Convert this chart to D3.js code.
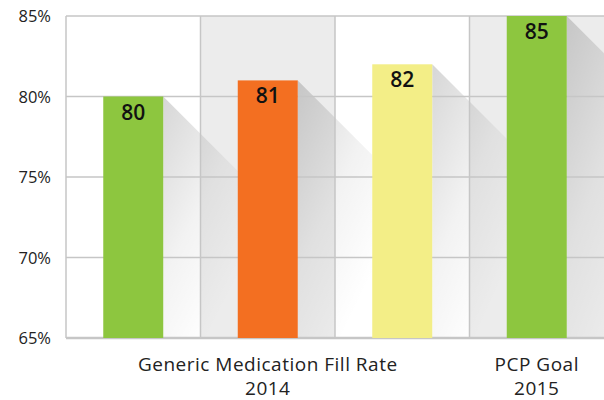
<!DOCTYPE html>
<html>
<head>
<meta charset="utf-8">
<script src="https://cdn.jsdelivr.net/npm/d3@7/dist/d3.min.js"></script>
<style>
  html, body { margin: 0; padding: 0; background: #fff; }
  svg { display: block; font-family: "Open Sans", "Noto Sans", sans-serif; }
</style>
</head>
<body>
<svg id="chart" width="604" height="400"></svg>
<script>
// Fill rate bars: three 2014 results plus the 2015 goal
const slots = ["g1", "g2", "g3", "goal"];
const values = [80, 81, 82, 85];
const barColors = ["#8dc63f", "#f36f21", "#f3ee87", "#8dc63f"];
const yTicks = [65, 70, 75, 80, 85];
const groupLabels = [
  { lines: ["Generic Medication Fill Rate", "2014"], from: "g1", to: "g3" },
  { lines: ["PCP Goal", "2015"], from: "goal", to: "goal" }
];

const W = 604, H = 400;
const plot = { left: 66, right: 604, top: 16, bottom: 338 };

const svg = d3.select("#chart");

const x = d3.scaleBand().domain(slots).range([plot.left, plot.right]).padding(0);
const y = d3.scaleLinear().domain([65, 85]).range([plot.bottom, plot.top]);
const barW = x.bandwidth() * 0.446;

// Alternating column backgrounds
svg.append("g").selectAll("rect").data(slots).join("rect")
  .attr("x", d => x(d)).attr("y", plot.top)
  .attr("width", x.bandwidth()).attr("height", plot.bottom - plot.top)
  .attr("fill", (d, i) => i % 2 ? "#ececec" : "#ffffff");

// Long diagonal shadows cast by each bar
const defs = svg.append("defs");
const grad = defs.append("linearGradient").attr("id", "shade")
  .attr("x1", 0).attr("y1", 0).attr("x2", 0.6).attr("y2", 1);
grad.append("stop").attr("offset", 0).attr("stop-color", "#000").attr("stop-opacity", 0.16);
grad.append("stop").attr("offset", 0.55).attr("stop-color", "#000").attr("stop-opacity", 0.05);
grad.append("stop").attr("offset", 1).attr("stop-color", "#000").attr("stop-opacity", 0.0);
defs.append("clipPath").attr("id", "plotclip").append("rect")
  .attr("x", plot.left).attr("y", plot.top)
  .attr("width", plot.right - plot.left).attr("height", plot.bottom - plot.top);

const barLeft = d => x(d) + (x.bandwidth() - barW) / 2;

svg.append("g").attr("clip-path", "url(#plotclip)")
  .selectAll("path").data(slots).join("path")
  .attr("d", (d, i) => {
    const r = barLeft(d) + barW;
    const top = y(values[i]);
    const span = x.bandwidth() - barW;
    return `M${r},${top}L${r + span},${top + span}L${r + span},${plot.bottom}L${r},${plot.bottom}Z`;
  })
  .attr("fill", "url(#shade)");

// Grid lines
const grid = svg.append("g").attr("stroke", "#c6c6c6").attr("stroke-width", 1.5);
grid.selectAll("line.h").data(yTicks).join("line").attr("class", "h")
  .attr("x1", plot.left).attr("x2", plot.right)
  .attr("y1", d => y(d)).attr("y2", d => y(d));
grid.selectAll("line.v").data(slots).join("line").attr("class", "v")
  .attr("x1", d => x(d)).attr("x2", d => x(d))
  .attr("y1", plot.top).attr("y2", plot.bottom);
grid.append("line")
  .attr("x1", plot.left).attr("x2", plot.right)
  .attr("y1", plot.bottom).attr("y2", plot.bottom)
  .attr("stroke-width", 2.5);

// Bars
svg.append("g").selectAll("rect").data(slots).join("rect")
  .attr("x", d => barLeft(d))
  .attr("y", (d, i) => y(values[i]))
  .attr("width", barW)
  .attr("height", (d, i) => y(65) - y(values[i]))
  .attr("fill", (d, i) => barColors[i]);

// Value labels inside bar tops
svg.append("g").selectAll("text").data(slots).join("text")
  .attr("x", d => x(d) + x.bandwidth() / 2)
  .attr("y", (d, i) => y(values[i]) + 23)
  .attr("text-anchor", "middle")
  .attr("font-size", 21).attr("font-weight", 600).attr("fill", "#111")
  .text((d, i) => values[i]);

// Y axis tick labels
svg.append("g").selectAll("text").data(yTicks).join("text")
  .attr("x", 51).attr("y", d => y(d) + 6)
  .attr("text-anchor", "end")
  .attr("font-size", 16.5).attr("fill", "#222")
  .text(d => d + "%");

// Category group labels, one text per line
const catG = svg.append("g").attr("font-size", 19)
  .attr("letter-spacing", 0.5).attr("fill", "#222");
groupLabels.forEach(g => {
  const cx = (x(g.from) + x(g.to) + x.bandwidth()) / 2;
  g.lines.forEach((ln, k) => {
    catG.append("text").attr("text-anchor", "middle")
      .attr("x", cx).attr("y", 371 + k * 23.5).text(ln);
  });
});
</script>
</body>
</html>
